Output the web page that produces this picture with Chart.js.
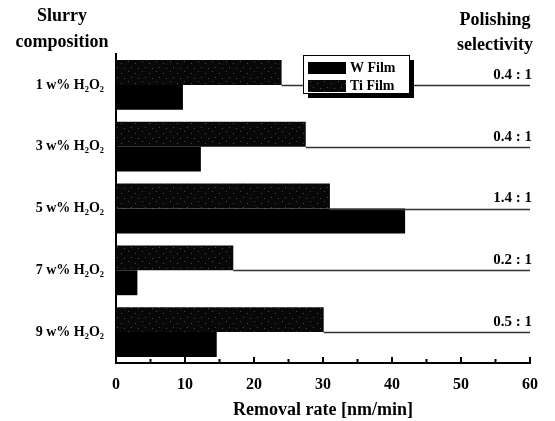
<!DOCTYPE html>
<html>
<head>
<meta charset="utf-8">
<script src="https://cdn.jsdelivr.net/npm/chart.js@4.4.0/dist/chart.umd.min.js"></script>
<style>
html, body { margin: 0; padding: 0; background: #fff; }
</style>
</head>
<body>
<canvas id="removalChart" width="555" height="421"></canvas>
<script>
const compositions = ['1 w% H₂O₂', '3 w% H₂O₂', '5 w% H₂O₂', '7 w% H₂O₂', '9 w% H₂O₂'];
const tiFilm = [24.0, 27.5, 31.0, 17.0, 30.1];
const wFilm = [9.7, 12.3, 41.9, 3.1, 14.6];
const selectivity = ['0.4 : 1', '0.4 : 1', '1.4 : 1', '0.2 : 1', '0.5 : 1'];
const leftHeader = ['Slurry', 'composition'];
const rightHeader = ['Polishing', 'selectivity'];

const serif = '"Liberation Serif", "Times New Roman", serif';

// speckled near-black fill for the Ti bars
function makeSpeckle() {
    const c = document.createElement('canvas');
    c.width = 14; c.height = 10;
    const g = c.getContext('2d');
    g.fillStyle = '#080808';
    g.fillRect(0, 0, 14, 10);
    g.fillStyle = '#4a4a4a';
    [[2, 1], [9, 3], [5, 7], [12, 8]].forEach(p => g.fillRect(p[0], p[1], 1, 1));
    return g.createPattern(c, 'repeat');
}

const ctx = document.getElementById('removalChart').getContext('2d');
const tiFill = makeSpeckle();

const extras = {
    id: 'extras',
    afterDatasetsDraw(chart) {
        const c = chart.ctx;
        const xs = chart.scales.x;
        const ys = chart.scales.y;
        // selectivity guide lines
        c.save();
        c.strokeStyle = '#333';
        c.lineWidth = 1.5;
        tiFilm.forEach((v, i) => {
            const y = Math.round(ys.getPixelForValue(i)) + 0.5;
            c.beginPath();
            c.moveTo(xs.getPixelForValue(v), y);
            c.lineTo(xs.right, y);
            c.stroke();
        });
        // inward tick marks on the x axis
        c.strokeStyle = '#000';
        c.lineWidth = 2;
        xs.ticks.forEach(t => {
            const x = xs.getPixelForValue(t.value);
            const len = t.value % 10 === 0 ? 6 : 4;
            c.beginPath();
            c.moveTo(x, xs.top);
            c.lineTo(x, xs.top - len);
            c.stroke();
        });
        c.restore();
    },
    afterDraw(chart) {
        const c = chart.ctx;
        c.save();
        c.fillStyle = '#000';
        c.textAlign = 'center';
        c.textBaseline = 'middle';
        c.font = 'bold 18px ' + serif;
        c.fillText(leftHeader[0], 62, 16);
        c.fillText(leftHeader[1], 62, 42);
        c.fillText(rightHeader[0], 495, 20);
        c.fillText(rightHeader[1], 495, 45);

        // legend box with drop shadow
        const lx = 303, ly = 55, lw = 106, lh = 38;
        c.fillStyle = '#000';
        c.fillRect(lx + 5, ly + 5, lw, lh);
        c.fillStyle = '#fff';
        c.fillRect(lx, ly, lw, lh);
        c.strokeStyle = '#000';
        c.lineWidth = 1;
        c.strokeRect(lx + 0.5, ly + 0.5, lw, lh);
        c.textAlign = 'left';
        c.font = 'bold 14px ' + serif;
        const sets = chart.data.datasets.slice().reverse();
        sets.forEach((ds, i) => {
            const yy = ly + 7 + i * 18;
            c.fillStyle = ds.backgroundColor;
            c.fillRect(lx + 5, yy, 38, 12);
            c.fillStyle = '#000';
            c.fillText(ds.label, lx + 47, yy + 6);
        });
        c.restore();
    }
};

new Chart(ctx, {
    type: 'bar',
    data: {
        labels: compositions,
        datasets: [
            { label: 'Ti Film', data: tiFilm, backgroundColor: tiFill, borderWidth: 0 },
            { label: 'W Film', data: wFilm, backgroundColor: '#000', borderWidth: 0 }
        ]
    },
    options: {
        indexAxis: 'y',
        responsive: false,
        animation: false,
        devicePixelRatio: 1,
        barPercentage: 1.0,
        categoryPercentage: 0.806,
        layout: { padding: { top: 54, left: 0, right: 0, bottom: 0 } },
        plugins: { legend: { display: false }, tooltip: { enabled: false } },
        scales: {
            x: {
                min: 0,
                max: 60,
                grid: { display: false, drawTicks: false },
                border: { display: true, color: '#000', width: 2 },
                ticks: {
                    stepSize: 5,
                    autoSkip: false,
                    maxRotation: 0,
                    padding: 12,
                    color: '#000',
                    font: { family: serif, size: 16, weight: 'bold' },
                    callback: v => (v % 10 === 0 ? v : '')
                },
                title: {
                    display: true,
                    text: 'Removal rate [nm/min]',
                    color: '#000',
                    padding: { top: 4, bottom: 0 },
                    font: { family: serif, size: 18, weight: 'bold' }
                },
                afterFit: s => { s.height = 58; }
            },
            y: {
                grid: { display: false, drawTicks: false },
                border: { display: true, color: '#000', width: 2 },
                ticks: {
                    padding: 12,
                    color: '#000',
                    font: { family: serif, size: 14, weight: 'bold' }
                },
                afterFit: s => { s.width = 116; }
            },
            y2: {
                type: 'category',
                axis: 'y',
                position: 'right',
                labels: selectivity,
                offset: true,
                grid: { display: false, drawTicks: false },
                border: { display: false },
                ticks: {
                    mirror: true,
                    padding: 2,
                    labelOffset: -10,
                    color: '#000',
                    font: { family: serif, size: 15, weight: 'bold' }
                },
                afterFit: s => { s.width = 25; }
            }
        }
    },
    plugins: [extras]
});
</script>
</body>
</html>
